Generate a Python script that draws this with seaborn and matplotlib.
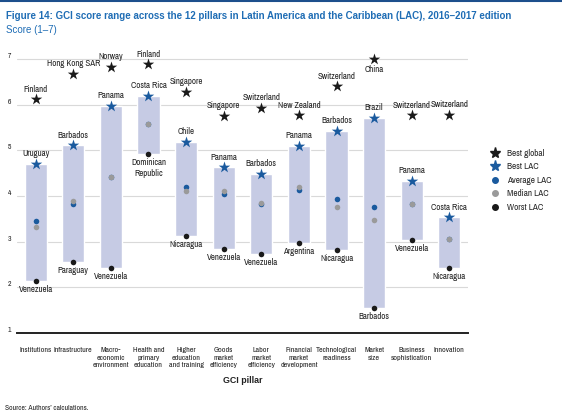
import matplotlib
matplotlib.use("Agg")
import matplotlib.pyplot as plt
from matplotlib import font_manager
from matplotlib.lines import Line2D
import numpy as np
import pandas as pd
import seaborn as sns

pillars = ["Institutions", "Infrastructure", "Macro-\neconomic\nenvironment",
           "Health and\nprimary\neducation", "Higher\neducation\nand training",
           "Goods\nmarket\nefficiency", "Labor\nmarket\nefficiency",
           "Financial\nmarket\ndevelopment", "Technological\nreadiness",
           "Market\nsize", "Business\nsophistication", "Innovation"]

best_global = [6.12, 6.67, 6.83, 6.88, 6.28, 5.75, 5.93, 5.77, 6.40, 6.99, 5.77, 5.78]
best_global_name = ["Finland", "Hong Kong SAR", "Norway", "Finland", "Singapore", "Singapore",
                    "Switzerland", "New Zealand", "Switzerland", "China", "Switzerland", "Switzerland"]
best_lac = [4.70, 5.11, 5.97, 6.19, 5.19, 4.63, 4.49, 5.10, 5.43, 5.71, 4.33, 3.53]
best_lac_name = ["Uruguay", "Barbados", "Panama", "Costa Rica", "Chile", "Panama",
                 "Barbados", "Panama", "Barbados", "Brazil", "Panama", "Costa Rica"]
average_lac = [3.45, 3.82, 4.42, 5.57, 4.20, 4.04, 3.82, 4.14, 3.94, 3.75, 3.83, 3.07]
median_lac = [3.32, 3.89, 4.42, 5.57, 4.11, 4.11, 3.84, 4.20, 3.75, 3.48, 3.83, 3.07]
worst_lac = [2.14, 2.56, 2.42, 4.93, 3.13, 2.85, 2.74, 2.98, 2.82, 1.56, 3.04, 2.43]
worst_lac_name = ["Venezuela", "Paraguay", "Venezuela", "Dominican\nRepublic", "Nicaragua",
                  "Venezuela", "Venezuela", "Argentina", "Nicaragua", "Barbados",
                  "Venezuela", "Nicaragua"]

df = pd.DataFrame({
    "pillar": pillars,
    "best_global": best_global,
    "best_lac": best_lac,
    "average": average_lac,
    "median": median_lac,
    "worst": worst_lac,
})
df["span"] = df["best_lac"] - df["worst"]

sns.set_theme(style="white")

# look for a narrow sans font, otherwise shrink the regular one
narrow = None
for f in font_manager.fontManager.ttflist:
    if "Narrow" in f.name or "Condensed" in f.name:
        narrow = f.name
        break
if narrow:
    plt.rcParams["font.family"] = [narrow, "Liberation Sans", "DejaVu Sans"]
    small, label_fs, leg_fs = 5.7, 6.4, 6.6
else:
    plt.rcParams["font.family"] = ["Liberation Sans", "DejaVu Sans"]
    small, label_fs, leg_fs = 4.7, 5.0, 5.6

BLUE = "#1a5a9e"
TITLE_BLUE = "#1f6db5"
BAR = "#c6cbe4"
GREY = "#9a9a9a"
BLACK = "#1a1a1a"

fig = plt.figure(figsize=(5.62, 4.18), dpi=100)
ax = fig.add_axes([0.030, 0.203, 0.803, 0.678])

# range bars from worst LAC to best LAC
sns.barplot(data=df, x="pillar", y="span", bottom=df["worst"].values, color=BAR,
            width=0.59, saturation=1, ax=ax, zorder=2)

kw = dict(ax=ax, legend=False, linewidth=0)
sns.scatterplot(data=df, x="pillar", y="average", color=BLUE, s=16, zorder=3, **kw)
sns.scatterplot(data=df, x="pillar", y="median", color=GREY, s=16, zorder=4, **kw)
sns.scatterplot(data=df, x="pillar", y="worst", color=BLACK, s=16, zorder=5, **kw)
sns.scatterplot(data=df, x="pillar", y="best_lac", color=BLUE, marker="*", s=75, zorder=6, **kw)
sns.scatterplot(data=df, x="pillar", y="best_global", color=BLACK, marker="*", s=75, zorder=6, **kw)

lab = dict(fontsize=label_fs, color="#222222", ha="center", textcoords="offset points")
for i in range(len(pillars)):
    if best_global_name[i] == "China":
        ax.annotate(best_global_name[i], (i, best_global[i]), xytext=(0, -4), va="top", **lab)
    else:
        ax.annotate(best_global_name[i], (i, best_global[i]), xytext=(0, 4), va="bottom", **lab)
    ax.annotate(best_lac_name[i], (i, best_lac[i]), xytext=(0, 4), va="bottom", **lab)
    ax.annotate(worst_lac_name[i], (i, worst_lac[i]), xytext=(0, -3), va="top",
                linespacing=1.3, **lab)

ax.set_xlim(-0.5, 11.5)
ax.set_ylim(1, 7.2)
ax.set_yticks([1, 2, 3, 4, 5, 6, 7])
ax.set_yticklabels(["1", "2", "3", "4", "5", "6", "7"], fontsize=5.5, color="#222222", va="bottom")
ax.tick_params(axis="y", length=0, pad=4)
ax.tick_params(axis="x", length=0, pad=10, labelsize=small, labelcolor="#222222")
ax.set_xticks(range(len(pillars)))
ax.set_xticklabels(pillars, linespacing=1.3)
ax.yaxis.grid(True, color="#d9d9d9", linewidth=0.8, zorder=0)
ax.set_axisbelow(True)
for s in ["top", "right", "left"]:
    ax.spines[s].set_visible(False)
ax.spines["bottom"].set_color("#222222")
ax.spines["bottom"].set_linewidth(1.4)
ax.set_xlabel("GCI pillar", fontsize=6.4, fontweight="bold", color="#222222", labelpad=6,
              family=["Liberation Sans", "DejaVu Sans"])
ax.set_ylabel("")

handles = [
    Line2D([], [], marker="*", color=BLACK, linestyle="none", markersize=8),
    Line2D([], [], marker="*", color=BLUE, linestyle="none", markersize=8),
    Line2D([], [], marker="o", color=BLUE, linestyle="none", markersize=4),
    Line2D([], [], marker="o", color=GREY, linestyle="none", markersize=4),
    Line2D([], [], marker="o", color=BLACK, linestyle="none", markersize=4),
]
fig.legend(handles, ["Best global", "Best LAC", "Average LAC", "Median LAC", "Worst LAC"],
           loc="upper left", bbox_to_anchor=(0.858, 0.653), frameon=False, fontsize=leg_fs,
           handletextpad=0.3, labelspacing=0.5, borderaxespad=0)

fig.add_artist(Line2D([0, 1], [0.997, 0.997], color="#1d4f8c", linewidth=1.5,
                      transform=fig.transFigure))
fig.text(0.011, 0.962, "Figure 14: GCI score range across the 12 pillars in Latin America and the Caribbean (LAC), 2016\u20132017 edition",
         fontsize=7.0, fontweight="bold", color=TITLE_BLUE, va="center", ha="left",
         family=["Liberation Sans", "DejaVu Sans"])
fig.text(0.011, 0.928, "Score (1\u20137)", fontsize=7.0, color=TITLE_BLUE, va="center", ha="left",
         family=["Liberation Sans", "DejaVu Sans"])
fig.text(0.009, 0.024, "Source: Authors\u2019 calculations.", fontsize=5.5, color="#222222",
         va="center", ha="left")

fig.savefig("out.png", dpi=100)
